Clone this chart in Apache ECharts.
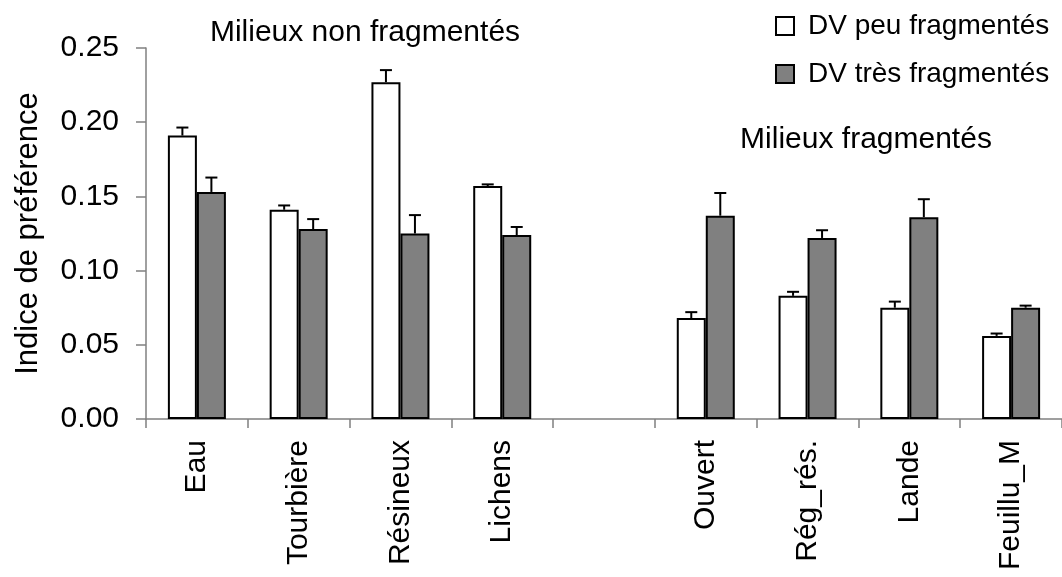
<!DOCTYPE html>
<html>
<head>
<meta charset="utf-8">
<script src="https://cdn.jsdelivr.net/npm/echarts@6/dist/echarts.min.js"></script>
<style>html,body{margin:0;padding:0;background:#fff}#c{width:1062px;height:577px}</style>
</head>
<body>
<div id="c"></div>
<script>
const categories = ['Eau', 'Tourbière', 'Résineux', 'Lichens', '', 'Ouvert', 'Rég_rés.', 'Lande', 'Feuillu_M'];
const seriesNames = ['DV peu fragmentés', 'DV très fragmentés'];
const peuValues = [0.191, 0.141, 0.227, 0.157, null, 0.068, 0.083, 0.075, 0.056];
const peuErrors = [0.0054, 0.0029, 0.0081, 0.0011, null, 0.0040, 0.0027, 0.0041, 0.0016];
const tresValues = [0.153, 0.128, 0.125, 0.124, null, 0.137, 0.122, 0.136, 0.075];
const tresErrors = [0.0097, 0.0067, 0.0124, 0.0054, null, 0.0153, 0.0052, 0.0121, 0.0014];
const yTicks = [0, 0.05, 0.10, 0.15, 0.20, 0.25];
const groupLabels = ['Milieux non fragmentés', 'Milieux fragmentés'];
const yAxisName = 'Indice de préférence';

const FONT = '"Liberation Sans", Arial, sans-serif';
const BAR_W = 29;

function errData(vals, errs) {
  const out = [];
  vals.forEach((v, i) => { if (v != null) out.push([i, v, errs[i]]); });
  return out;
}
function errRender(offset) {
  return function (params, api) {
    const i = api.value(0), v = api.value(1), e = api.value(2);
    const b = api.coord([i, v]);
    const t = api.coord([i, v + e]);
    const x = b[0] + offset;
    const style = { stroke: '#000', lineWidth: 2 };
    return {
      type: 'group',
      children: [
        { type: 'line', shape: { x1: x, y1: b[1], x2: x, y2: t[1] }, style },
        { type: 'line', shape: { x1: x - 6, y1: t[1], x2: x + 6, y2: t[1] }, style }
      ]
    };
  };
}

const chart = echarts.init(document.getElementById('c'));
chart.setOption({
  animation: false,
  backgroundColor: '#fff',
  textStyle: { fontFamily: FONT },
  grid: { left: 146, top: 48, bottom: 158, right: -10, containLabel: false },
  legend: {
    data: seriesNames,
    orient: 'vertical',
    left: 770,
    top: 7,
    itemWidth: 18,
    itemHeight: 18,
    itemGap: 20,
    icon: 'rect',
    textStyle: { fontSize: 28, color: '#000', fontFamily: FONT, padding: [0, 0, 0, 9] }
  },
  xAxis: {
    type: 'category',
    data: categories,
    axisLine: { lineStyle: { color: '#808080', width: 1.5 } },
    axisTick: { show: true, length: 9, lineStyle: { color: '#808080', width: 1.5 } },
    axisLabel: { rotate: 90, margin: 21, fontSize: 30, color: '#000', fontFamily: FONT, interval: 0 }
  },
  yAxis: {
    type: 'value',
    min: yTicks[0],
    max: yTicks[yTicks.length - 1],
    interval: 0.05,
    name: yAxisName,
    nameLocation: 'middle',
    nameGap: 102,
    nameTextStyle: { fontSize: 31, color: '#000', fontFamily: FONT },
    axisLine: { show: true, lineStyle: { color: '#808080', width: 1.5 } },
    axisTick: { show: true, length: 10, lineStyle: { color: '#808080', width: 1.5 } },
    splitLine: { show: false },
    axisLabel: { margin: 27, fontSize: 30, color: '#000', fontFamily: FONT, formatter: v => v.toFixed(2) }
  },
  series: [
    {
      name: seriesNames[0], type: 'bar', data: peuValues, barWidth: BAR_W, barGap: '0%',
      itemStyle: { color: '#ffffff', borderColor: '#000', borderWidth: 2 }
    },
    {
      name: seriesNames[1], type: 'bar', data: tresValues, barWidth: BAR_W, barGap: '0%',
      itemStyle: { color: '#808080', borderColor: '#000', borderWidth: 2 }
    },
    { type: 'custom', name: 'err1', data: errData(peuValues, peuErrors), renderItem: errRender(-BAR_W / 2), z: 5, silent: true },
    { type: 'custom', name: 'err2', data: errData(tresValues, tresErrors), renderItem: errRender(BAR_W / 2), z: 5, silent: true }
  ],
  graphic: [
    { type: 'text', x: 365, y: 33, style: { text: groupLabels[0], fontSize: 30, fontFamily: FONT, fill: '#000', textAlign: 'center', textVerticalAlign: 'middle' } },
    { type: 'text', x: 866, y: 140, style: { text: groupLabels[1], fontSize: 30, fontFamily: FONT, fill: '#000', textAlign: 'center', textVerticalAlign: 'middle' } }
  ]
});
</script>
</body>
</html>
